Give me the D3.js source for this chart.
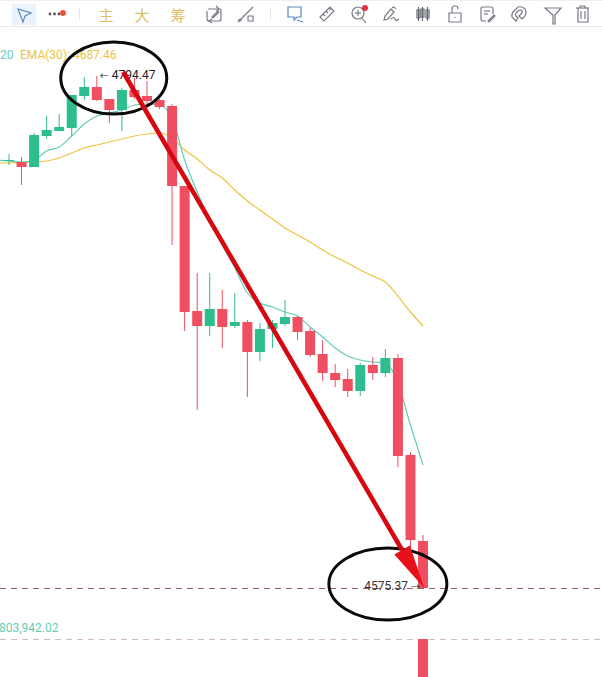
<!DOCTYPE html>
<html>
<head>
<meta charset="utf-8">
<script src="https://cdn.jsdelivr.net/npm/d3@7"></script>
<style>
  html, body { margin: 0; padding: 0; background: #fff; overflow: hidden; }
  svg { display: block; }
  text { font-family: Roboto, "Noto Sans CJK SC", sans-serif; }
</style>
</head>
<body>
<svg id="chart" width="602" height="677"></svg>
<script>
// price data, one entry per candle
const opens = [4758.09,4757.67,4755.53,4768.79,4770.93,4772.21,4785.91,4789.76,4784.62,4779.92,4788.48,4785.91,4784.20,4781.63,4747.39,4693.90,4687.48,4694.76,4687.48,4689.20,4676.36,4686.20,4688.34,4691.34,4685.34,4675.50,4667.37,4664.80,4659.67,4670.80,4667.37,4673.79,4632.28,4595.48];
const highs = [4761.09,4759.80,4770.08,4777.35,4778.21,4786.34,4794.04,4794.47,4784.62,4789.33,4793.61,4792.33,4784.62,4782.49,4747.39,4710.17,4710.17,4702.89,4701.61,4690.05,4688.77,4690.05,4698.61,4691.76,4686.63,4681.49,4671.22,4669.08,4671.65,4674.22,4677.64,4675.50,4633.57,4598.05];
const lows = [4756.38,4747.82,4755.53,4767.51,4770.93,4768.79,4784.20,4783.77,4774.35,4770.93,4784.62,4782.06,4780.35,4722.15,4685.34,4651.54,4683.21,4678.07,4686.63,4657.10,4672.51,4678.07,4687.48,4681.49,4674.22,4663.95,4661.38,4657.10,4657.53,4664.38,4665.66,4627.15,4591.63,4575.37];
const closes = [4758.52,4755.53,4769.22,4771.36,4772.64,4786.34,4789.76,4784.20,4779.92,4788.48,4785.48,4783.77,4781.20,4747.39,4693.48,4687.48,4694.76,4687.06,4689.20,4676.36,4686.20,4688.77,4691.34,4684.92,4675.07,4667.37,4664.38,4659.67,4670.80,4667.37,4673.79,4631.85,4595.91,4575.37];

// the last candle carries on below the covered band
const lastPiece = { index: 33, open: 4553.54, close: 4531.72 };

// first entry of each average sits one candle left of the first candle
const emaFast = [4758.52,4758.09,4757.67,4758.52,4762.37,4764.08,4768.79,4773.93,4777.35,4778.63,4779.92,4782.06,4782.49,4782.06,4776.49,4758.52,4744.83,4732.85,4722.15,4712.30,4701.61,4697.33,4695.62,4693.48,4691.76,4687.06,4682.78,4678.07,4674.65,4672.94,4672.08,4671.65,4663.09,4645.12,4628.00];
const emaSlow = [4757.24,4757.24,4757.45,4757.67,4758.09,4759.38,4761.52,4763.66,4764.94,4766.22,4767.51,4768.79,4769.65,4770.08,4767.94,4762.80,4758.95,4754.24,4750.82,4745.68,4740.98,4737.12,4733.27,4729.42,4726.43,4723.43,4720.01,4717.01,4714.44,4711.45,4708.88,4706.31,4700.32,4693.48,4687.48];

const priceLines = [4575.37, 4553.54];
const toolbarWords = ["主", "大", "筹"];

const red = "#ef4f60", green = "#2ebd8e", teal = "#63cdb3", gold = "#eec23f";
const width = 602, height = 677;

const svg = d3.select("#chart");

const x = d3.scaleLinear().domain([0, 33]).range([9, 423]);
const y = d3.scaleLinear().domain([4794.47, 4575.37]).range([76, 588]);

const candles = opens.map((o, i) => ({ i, o, h: highs[i], l: lows[i], c: closes[i] }));

// dashed price lines
svg.append("g").selectAll("line")
  .data(priceLines)
  .join("line")
  .attr("x1", 0).attr("x2", width)
  .attr("y1", d => Math.round(y(d)) + 0.5).attr("y2", d => Math.round(y(d)) + 0.5)
  .attr("stroke", (d, i) => i === 0 ? "#9c5f68" : "#d3bcc0")
  .attr("stroke-width", 1)
  .attr("stroke-dasharray", "6 5");

// moving averages
const line = d3.line().x((d, i) => x(i - 1)).y(d => y(d)).curve(d3.curveMonotoneX);
[[emaSlow, gold], [emaFast, teal]].forEach(([vals, col]) => {
  svg.append("path")
    .attr("d", line(vals))
    .attr("fill", "none")
    .attr("stroke", col)
    .attr("stroke-width", 1.2);
});

// candles
const bodyW = 10;
const g = svg.append("g");
g.selectAll("line.wick")
  .data(candles)
  .join("line")
  .attr("class", "wick")
  .attr("x1", d => x(d.i)).attr("x2", d => x(d.i))
  .attr("y1", d => y(d.h)).attr("y2", d => y(d.l))
  .attr("stroke", d => d.c >= d.o ? green : red)
  .attr("stroke-width", 1);
g.selectAll("rect.body")
  .data(candles)
  .join("rect")
  .attr("class", "body")
  .attr("x", d => x(d.i) - bodyW / 2)
  .attr("width", bodyW)
  .attr("y", d => y(Math.max(d.o, d.c)))
  .attr("height", d => Math.max(1, Math.abs(y(d.o) - y(d.c))))
  .attr("fill", d => d.c >= d.o ? green : red);
g.append("rect")
  .attr("x", x(lastPiece.index) - bodyW / 2)
  .attr("width", bodyW)
  .attr("y", y(lastPiece.open))
  .attr("height", y(lastPiece.close) - y(lastPiece.open))
  .attr("fill", red);

// labels
const label = (tx, ty, str, col, size, anchor) => svg.append("text")
  .attr("x", tx).attr("y", ty).text(str)
  .attr("fill", col).attr("font-size", size)
  .attr("text-anchor", anchor || "start");

label(0, 59, "20", teal, 12);
label(20, 59, "EMA(30): 4687.46", gold, 12);
label(-1, 632, "803,942.02", teal, 12);
label(x(7) + 3, y(highs[7]) + 3, "←", "#222", 9);
label(x(7) + 15, y(highs[7]) + 3, "4794.47", "#222", 12);
label(x(33) - 15, y(lows[33]) + 2, "4575.37", "#333", 12, "end");
label(x(33) - 3, y(lows[33]) + 2, "→", "#333", 9, "end");

// hand drawn marks, anchored on the candles they circle
const rings = [
  { i: 8.35, p: 4793.6, rx: 53, ry: 36 },
  { i: 30.2, p: 4577.1, rx: 59, ry: 36 }
];
svg.append("g").selectAll("ellipse")
  .data(rings)
  .join("ellipse")
  .attr("cx", d => x(d.i)).attr("cy", d => y(d.p))
  .attr("rx", d => d.rx).attr("ry", d => d.ry)
  .attr("fill", "none")
  .attr("stroke", "#0a0a0a")
  .attr("stroke-width", 3);

const arrowFrom = [x(9.1), y(4796.18)];
const arrowTo = [x(33.1), y(4575.37)];
const dx = arrowTo[0] - arrowFrom[0], dy = arrowTo[1] - arrowFrom[1];
const len = Math.hypot(dx, dy), ux = dx / len, uy = dy / len;
const headL = 44, headW = 9;
const bx = arrowTo[0] - ux * headL, by = arrowTo[1] - uy * headL;
svg.append("line")
  .attr("x1", arrowFrom[0]).attr("y1", arrowFrom[1])
  .attr("x2", bx).attr("y2", by)
  .attr("stroke", "#d8060e")
  .attr("stroke-width", 4.5);
svg.append("polygon")
  .attr("points", [arrowTo, [bx - uy * headW, by + ux * headW], [bx + uy * headW, by - ux * headW]].join(" "))
  .attr("fill", "#e8101a");

// toolbar
const bar = svg.append("g");
bar.append("rect").attr("width", width).attr("height", 26).attr("fill", "#fff");
bar.append("line").attr("x1", 0).attr("x2", width).attr("y1", 26.5).attr("y2", 26.5).attr("stroke", "#e9e9ec");
bar.append("line").attr("x1", 0).attr("x2", width).attr("y1", 0.5).attr("y2", 0.5).attr("stroke", "#efefef");
bar.append("rect").attr("x", 12).attr("y", 4).attr("width", 24).attr("height", 21).attr("fill", "#eaf3fb");
bar.append("path").attr("d", "M18 9 L31 13 L25 16 L23 22 Z").attr("fill", "none").attr("stroke", "#5b87c4").attr("stroke-width", 1.2);
[50, 54.5, 59].forEach(cx => bar.append("circle").attr("cx", cx).attr("cy", 14).attr("r", 1.4).attr("fill", "#555"));
bar.append("circle").attr("cx", 63).attr("cy", 13).attr("r", 3).attr("fill", "#e8563a");
[79.5, 270.5].forEach(sx => bar.append("line").attr("x1", sx).attr("x2", sx).attr("y1", 8).attr("y2", 20).attr("stroke", "#e6e6e6"));

const wordX = d3.scalePoint().domain(toolbarWords).range([106, 178]);
toolbarWords.forEach(w => {
  bar.append("text").attr("x", wordX(w)).attr("y", 21).text(w)
    .attr("text-anchor", "middle").attr("font-size", 15).attr("fill", "#dcc068")
    .attr("font-family", "'Noto Sans CJK SC'");
});

// icons are rough little outlines
const icon = (tx, paths, col) => {
  const ig = bar.append("g").attr("transform", `translate(${tx},14)`)
    .attr("fill", "none").attr("stroke", col || "#777b84").attr("stroke-width", 1.2);
  paths.forEach(p => ig.append("path").attr("d", p));
  return ig;
};
icon(214, ["M-6 -5 H5 Q7 -5 7 -3 V5 Q7 7 5 7 H-5 Q-7 7 -7 5 V-3", "M-2 3 L4 -3 L5 -2 L-1 4 Z", "M2 -8 L5 -5 L2 -3", "M-2 9 L-5 7 L-2 5"]);
icon(246, ["M-8 8 L7 -7", "M-6 6 m-1 0 a1 1 0 1 0 2 0 a1 1 0 1 0 -2 0", "M2 2 h5 v5 h-5 Z"]);
icon(295, ["M-7 -7 H6 V3 H2 L-1 6 V3 H-7 Z", "M2 6 L8 8"], "#5b87c4");
icon(327, ["M-7 3 L3 -7 L7 -3 L-3 7 Z", "M-4 0 L-2 2", "M-1 -3 L1 -1", "M2 -6 L4 -4"]);
icon(359, ["M-7 -1 a6 6 0 1 0 12 0 a6 6 0 1 0 -12 0", "M3 4 L7 9", "M-4 -1 H2", "M-1 -4 V2"]);
bar.append("circle").attr("cx", 365).attr("cy", 8).attr("r", 3).attr("fill", "#e0353f");
icon(391, ["M-7 6 L-6 2 L0 -5 L3 -2 L-3 5 Z", "M1 -6 Q3 -8 5 -5", "M0 5 Q3 2 4 5 T8 5"]);
icon(423, ["M-6 -4 h3 v8 h-3 Z", "M-2 -5 h3 v8 h-3 Z", "M3 -4 h3 v8 h-3 Z", "M-4.5 -7 V7", "M-0.5 -7 V7", "M4.5 -7 V7"], "#666a72");
icon(455, ["M-6 -1 H6 V8 H-6 Z", "M-3 -1 V-5 Q-3 -8 0 -8 Q3 -8 3 -5", "M0 3 V4"]);
icon(487, ["M6 0 V-5 Q6 -7 4 -7 H-4 Q-6 -7 -6 -5 V5 Q-6 7 -4 7 H-1", "M-3 -3 H3", "M-3 0 H1", "M1 7 L7 1 L8 2 L2 8 Z"]);
icon(519, ["M-3 7 L-7 3 Q-8 0 -5 -3 L-1 -7 Q3 -8 6 -5 Q8 -2 6 2 L3 5 L0 2 L3 -1 Q4 -3 2 -4 Q0 -4 -1 -3 L-3 -1 Q-4 1 -3 2 L-1 4 Z"]);
icon(553, ["M-8 -6 H8 L2 1 V10 H0 V1 Z"]);
icon(583, ["M-7 -6 H6", "M-3 -6 V-8 H2 V-6", "M-5 -6 V8 H5 V-6", "M-2 -3 V5", "M2 -3 V5"]);
</script>
</body>
</html>
